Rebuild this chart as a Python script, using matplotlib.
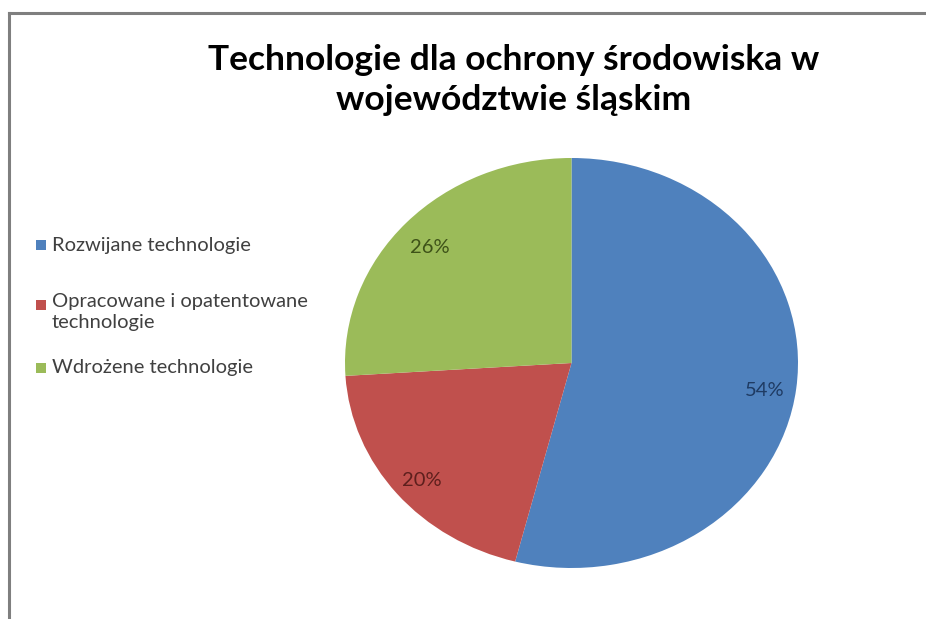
import matplotlib.pyplot as plt
from matplotlib.patches import Rectangle
from matplotlib.lines import Line2D

# udzialy technologii (w procentach)
categories = ["Rozwijane technologie",
              "Opracowane i opatentowane\ntechnologie",
              "Wdrożene technologie"]
shares = [54, 20, 26]
colors = ["#4F81BD", "#C0504D", "#9BBB59"]
label_colors = ["#1F3B63", "#5E1F1D", "#3E5218"]

title = "Technologie dla ochrony środowiska w\nwojewództwie śląskim"

plt.rcParams['font.family'] = ['Lato', 'DejaVu Sans']

W, H = 926, 619
fig = plt.figure(figsize=(W / 100, H / 100), dpi=100)
fig.patch.set_facecolor("white")

# szara ramka: tylko lewa i gorna krawedz sa widoczne
frame_kw = dict(color="#7f7f7f", linewidth=2.2, transform=fig.transFigure)
fig.add_artist(Line2D([9 / W, 9 / W], [0, 1 - 13 / H], **frame_kw))
fig.add_artist(Line2D([9 / W, 1], [1 - 13 / H, 1 - 13 / H], **frame_kw))

fig.text(514 / W, 1 - 80 / H, title, ha="center", va="center",
         fontsize=25.5, fontweight="bold", linespacing=1.3, color="black")

# kolo (lekko rozciagniete w poziomie)
ax = fig.add_axes([345 / W, 1 - 568 / H, 453 / W, 410 / H])
wedges, texts, autotexts = ax.pie(shares, colors=colors, startangle=90,
                                  counterclock=False, autopct="%d%%",
                                  pctdistance=0.86, radius=1,
                                  wedgeprops=dict(linewidth=0))
for t, c in zip(autotexts, label_colors):
    t.set_color(c)
    t.set_fontsize(14.5)
    x, y = t.get_position()
    t.set_position((x, y - 0.025))
ax.set_aspect("auto")
ax.set_xlim(-1, 1)
ax.set_ylim(-1, 1)
ax.axis("off")

# legenda po lewej
legend_y = [245, 305, 368]
for name, c, y in zip(categories, colors, legend_y):
    fig.patches.append(Rectangle((36 / W, 1 - (y + 5) / H), 10 / W, 10 / H,
                                 transform=fig.transFigure, facecolor=c,
                                 edgecolor="none"))
    if "\n" in name:
        fig.text(52 / W, 1 - (y - 12) / H, name, ha="left", va="top",
                 fontsize=14.5, color="#404040", linespacing=1.3)
    else:
        fig.text(52 / W, 1 - y / H, name, ha="left", va="center",
                 fontsize=14.5, color="#404040")

fig.savefig("out.png", dpi=100)
